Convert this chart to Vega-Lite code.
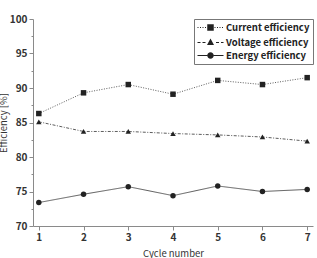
{
  "$schema": "https://vega.github.io/schema/vega-lite/v6.json",
  "width": 280,
  "height": 207,
  "autosize": {"type": "none"},
  "padding": {"left": 33, "top": 19, "right": 4, "bottom": 32},
  "background": "white",
  "config": {
    "view": {"stroke": null},
    "font": "Noto Sans CJK KR",
    "axis": {
      "grid": false,
      "domainColor": "#8a8a8a",
      "tickColor": "#8a8a8a",
      "labelColor": "#333333",
      "titleColor": "#333333",
      "labelFont": "Noto Sans CJK KR",
      "titleFont": "Noto Sans CJK KR",
      "labelFontSize": 10,
      "labelFontWeight": "bold",
      "titleFontSize": 9.5,
      "titleFontWeight": "normal"
    }
  },
  "data": {
    "values": [
      {"cycle": 1, "series": "Current efficiency", "value": 86.3},
      {"cycle": 2, "series": "Current efficiency", "value": 89.3},
      {"cycle": 3, "series": "Current efficiency", "value": 90.5},
      {"cycle": 4, "series": "Current efficiency", "value": 89.1},
      {"cycle": 5, "series": "Current efficiency", "value": 91.1},
      {"cycle": 6, "series": "Current efficiency", "value": 90.5},
      {"cycle": 7, "series": "Current efficiency", "value": 91.5},
      {"cycle": 1, "series": "Voltage efficiency", "value": 85.1},
      {"cycle": 2, "series": "Voltage efficiency", "value": 83.7},
      {"cycle": 3, "series": "Voltage efficiency", "value": 83.7},
      {"cycle": 4, "series": "Voltage efficiency", "value": 83.4},
      {"cycle": 5, "series": "Voltage efficiency", "value": 83.2},
      {"cycle": 6, "series": "Voltage efficiency", "value": 82.9},
      {"cycle": 7, "series": "Voltage efficiency", "value": 82.3},
      {"cycle": 1, "series": "Energy efficiency", "value": 73.4},
      {"cycle": 2, "series": "Energy efficiency", "value": 74.6},
      {"cycle": 3, "series": "Energy efficiency", "value": 75.7},
      {"cycle": 4, "series": "Energy efficiency", "value": 74.4},
      {"cycle": 5, "series": "Energy efficiency", "value": 75.8},
      {"cycle": 6, "series": "Energy efficiency", "value": 75.0},
      {"cycle": 7, "series": "Energy efficiency", "value": 75.3}
    ]
  },
  "encoding": {
    "x": {
      "field": "cycle",
      "type": "quantitative",
      "scale": {"domain": [0.87, 7.13], "nice": false, "zero": false},
      "axis": {
        "title": "Cycle number",
        "values": [1, 2, 3, 4, 5, 6, 7],
        "tickSize": 4,
        "labelPadding": 2,
        "titlePadding": 6,
        "labelFlush": false
      }
    },
    "y": {
      "field": "value",
      "type": "quantitative",
      "scale": {"domain": [70, 100], "nice": false, "zero": false},
      "axis": {
        "title": "Efficiency [%]",
        "values": [70, 72.5, 75, 77.5, 80, 82.5, 85, 87.5, 90, 92.5, 95, 97.5, 100],
        "labelExpr": "datum.value % 5 === 0 ? datum.label : ''",
        "tickSize": {"condition": {"test": "datum.value % 5 === 0", "value": 4}, "value": 2},
        "labelPadding": 2,
        "titlePadding": 1,
        "labelFlush": false
      }
    }
  },
  "layer": [
    {
      "mark": {"type": "point", "filled": true, "color": "#222222", "opacity": 0, "size": 100},
      "encoding": {
        "shape": {
          "field": "series",
          "type": "nominal",
          "scale": {
            "domain": ["Current efficiency", "Voltage efficiency", "Energy efficiency"],
            "range": [
              "M-1,-0.09H-0.8V0.09H-1ZM-0.5,-0.09H-0.3V0.09H-0.5ZM0,-0.09H0.2V0.09H0ZM0.5,-0.09H0.7V0.09H0.5ZM2.4,-0.09H2.6V0.09H2.4ZM2.9,-0.09H3.1V0.09H2.9ZM3.4,-0.09H3.6V0.09H3.4ZM3.9,-0.09H4.1V0.09H3.9ZM0.95,-0.65H2.25V0.65H0.95Z",
              "M-1,-0.09H-0.4V0.09H-1ZM0,-0.09H0.6V0.09H0ZM2.7,-0.09H3.3V0.09H2.7ZM3.7,-0.09H4.2V0.09H3.7ZM1.6,-0.8L2.3,0.5H0.9Z",
              "M-1,-0.09H0.95V0.09H-1ZM2.25,-0.09H4.2V0.09H2.25ZM0.95,0A0.65,0.65 0 1,0 2.25,0A0.65,0.65 0 1,0 0.95,0Z"
            ]
          },
          "legend": {
            "title": null,
            "orient": "top-right",
            "offset": 0,
            "padding": 3,
            "strokeColor": "#777777",
            "fillColor": "white",
            "symbolSize": 100,
            "symbolOpacity": 1,
            "symbolFillColor": "#222222",
            "symbolStrokeColor": "#222222",
            "symbolStrokeWidth": 0.8,
            "labelOffset": 18,
            "labelFont": "Noto Sans CJK KR",
            "labelFontSize": 9.5,
            "labelFontWeight": "bold",
            "labelColor": "#222222",
            "rowPadding": 3,
            "encode": {
              "symbols": {
                "update": {
                  "fill": {"value": "#222222"},
                  "fillOpacity": {"value": 1},
                  "opacity": {"value": 1}
                }
              }
            }
          }
        }
      }
    },
    {
      "mark": {"type": "line", "color": "#333333", "strokeWidth": 0.8},
      "encoding": {
        "detail": {"field": "series"},
        "strokeDash": {
          "field": "series",
          "type": "nominal",
          "scale": {
            "domain": ["Current efficiency", "Voltage efficiency", "Energy efficiency"],
            "range": [[1, 1.5], [3, 1.5, 1, 1.5], [1, 0]]
          },
          "legend": null
        }
      }
    },
    {
      "mark": {"type": "point", "filled": true, "color": "#222222", "opacity": 1, "size": 30},
      "encoding": {
        "shape": {
          "field": "series",
          "type": "nominal",
          "scale": {
            "domain": ["Current efficiency", "Voltage efficiency", "Energy efficiency"],
            "range": ["square", "triangle-up", "circle"]
          },
          "legend": null
        }
      }
    }
  ],
  "resolve": {"scale": {"shape": "independent"}, "legend": {"shape": "independent"}}
}
